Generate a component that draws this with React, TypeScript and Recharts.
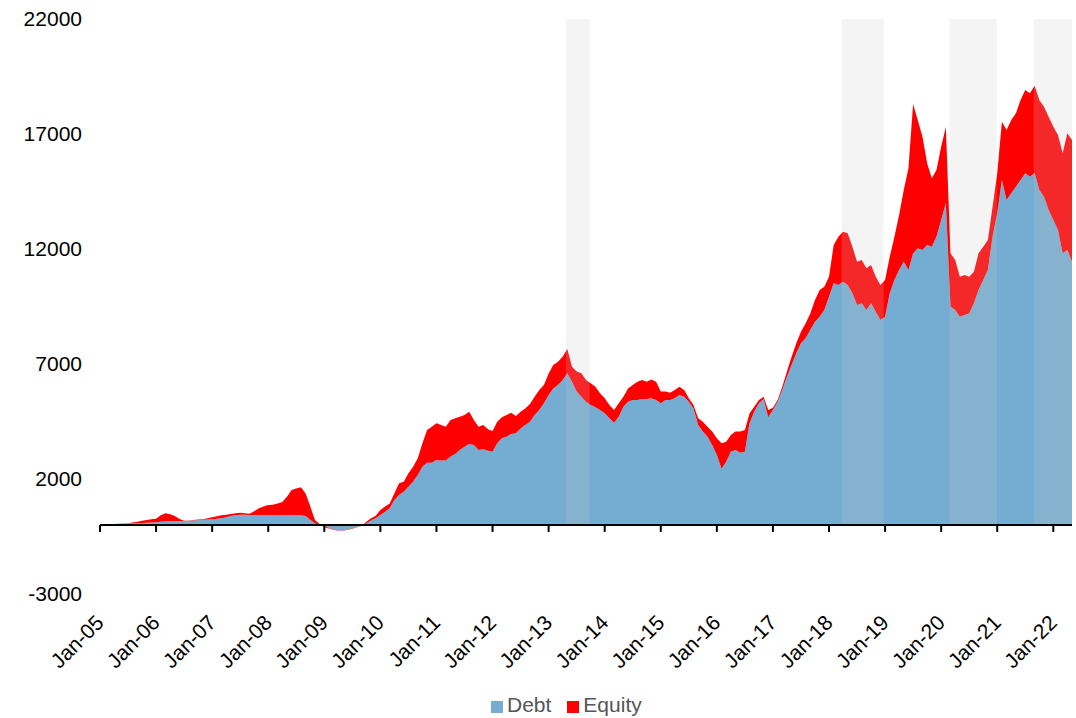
import { AreaChart, Area, XAxis, YAxis, ReferenceLine, ReferenceArea, Legend } from "recharts";

// monthly values, Jan-05 .. May-22
const debt = [
  20, 25, 30, 35, 40, 50, 60, 70, 80, 90, 100, 110,
  115, 140, 155, 165, 170, 175, 175, 185, 200, 210, 225, 240,
  250, 270, 290, 340, 390, 420, 450, 445, 435, 430, 420, 420,
  420, 420, 425, 425, 420, 420, 420, 420, 390, 220, 75, -10,
  -30, -130, -190, -235, -235, -190, -145, -85, -40, 80, 200, 290,
  435, 580, 725, 1090, 1305, 1450, 1665, 1885, 2175, 2535, 2710, 2710,
  2825, 2800, 2800, 2970, 3090, 3260, 3405, 3520, 3480, 3260, 3290, 3230,
  3190, 3550, 3770, 3840, 3955, 3990, 4200, 4350, 4490, 4780, 5000, 5290,
  5650, 5940, 6090, 6300, 6600, 6230, 5800, 5580, 5360, 5220, 5115, 5000,
  4855, 4640, 4450, 4710, 5145, 5360, 5435, 5435, 5480, 5480, 5510, 5435,
  5290, 5435, 5435, 5510, 5650, 5580, 5360, 5070, 4350, 4060, 3840, 3480,
  3040, 2450, 2750, 3190, 3260, 3145, 3190, 4420, 4925, 5290, 5480, 4680,
  5000, 5360, 5870, 6450, 6960, 7465, 7900, 8115, 8480, 8840, 9055, 9350,
  9925, 10510, 10435, 10580, 10435, 10075, 9565, 9640, 9350, 9640, 9275, 8915,
  9055, 10075, 10650, 11085, 11450, 11085, 11800, 12030, 11955, 12170, 12100, 12535,
  13260, 14000, 9500, 9350, 9055, 9130, 9200, 9640, 10220, 10650, 11085, 12535,
  13550, 15000, 14130, 14420, 14710, 15000, 15290, 15145, 15300, 14565, 14275, 13695,
  13260, 12825, 11810, 11955, 11450,
];

const equity = [
  20, 15, 15, 10, 10, 10, 20, 40, 65, 90, 120, 140,
  160, 280, 355, 305, 220, 85, 5, 15, 20, 25, 25, 50,
  85, 110, 130, 110, 90, 90, 85, 65, 55, 170, 305, 380,
  450, 460, 515, 575, 810, 1100, 1170, 1220, 985, 580, 145, 50,
  -70, -20, -20, -15, -15, -20, -15, -10, 0, 65, 90, 115,
  215, 220, 215, 290, 505, 435, 585, 650, 725, 1015, 1420, 1565,
  1595, 1550, 1475, 1595, 1550, 1450, 1375, 1405, 1085, 1015, 1060, 930,
  900, 940, 910, 940, 925, 750, 725, 720, 770, 800, 870, 800,
  940, 1020, 1010, 1020, 1050, 650, 870, 1015, 940, 940, 900, 725,
  655, 580, 550, 580, 435, 580, 655, 795, 820, 750, 820, 795,
  510, 365, 315, 360, 365, 290, 150, 150, 290, 430, 435, 580,
  730, 1100, 870, 720, 800, 915, 940, 435, 220, 145, 100, 320,
  100, 75, 145, 220, 360, 435, 505, 655, 720, 940, 1165, 1010,
  870, 1660, 2100, 2170, 2245, 2025, 1885, 1880, 1810, 1660, 1520, 1520,
  1595, 1590, 1885, 2395, 3115, 4425, 6500, 5570, 4930, 3555, 2975, 2900,
  3190, 3300, 2310, 2170, 1740, 1740, 1595, 1375, 1590, 1450, 1305, 1305,
  1740, 2535, 3045, 3190, 3190, 3480, 3620, 3625, 3800, 3915, 3915, 4055,
  4060, 4130, 4350, 5075, 5290,
];

const yearLabels = [
  "Jan-05", "Jan-06", "Jan-07", "Jan-08", "Jan-09", "Jan-10", "Jan-11", "Jan-12", "Jan-13",
  "Jan-14", "Jan-15", "Jan-16", "Jan-17", "Jan-18", "Jan-19", "Jan-20", "Jan-21", "Jan-22",
];

const yTicks = [-3000, 2000, 7000, 12000, 17000, 22000];

// shaded periods, in months since Jan-05
const shadedPeriods = [
  [99.7, 104.8],
  [158.7, 167.7],
  [181.8, 191.9],
  [199.8, 208],
];

const data = debt.map((d, i) => ({ m: i, debt: d, equity: equity[i] }));
const xTicks = yearLabels.map((_, i) => i * 12);

const FONT = "'Liberation Sans', Arial, sans-serif";

function XTick(props: any) {
  const { x, y, payload } = props;
  const label = yearLabels[Math.round(payload.value / 12)];
  const tx = x + 5;
  const ty = y + 28;
  return (
    <text
      x={tx}
      y={ty}
      transform={`rotate(-45 ${tx} ${ty})`}
      textAnchor="end"
      fontSize={21}
      fontFamily={FONT}
      fill="#000"
    >
      {label}
    </text>
  );
}

function renderLegend(props: any) {
  const items = props.payload || [];
  return (
    <div
      style={{
        display: "flex",
        alignItems: "center",
        fontFamily: FONT,
        fontSize: 21,
        lineHeight: "24px",
        color: "#555",
      }}
    >
      {items.map((item: any) => (
        <span key={item.value} style={{ display: "flex", alignItems: "center", marginRight: 16 }}>
          <span
            style={{
              display: "inline-block",
              width: 12,
              height: 12,
              background: item.color,
              marginRight: 4,
              position: "relative",
              top: 2,
            }}
          />
          {item.value}
        </span>
      ))}
    </div>
  );
}

export default function App() {
  return (
    <div style={{ position: "absolute", left: 0, top: 0, background: "#fff" }}>
      <AreaChart
        width={1076}
        height={718}
        data={data}
        margin={{ top: 19, right: 4, left: 0, bottom: 0 }}
      >
        <XAxis
          dataKey="m"
          type="number"
          domain={[0, debt.length - 1]}
          ticks={xTicks}
          axisLine={false}
          tickLine={false}
          tickSize={0}
          height={124}
          interval={0}
          tick={<XTick />}
        />
        <YAxis
          domain={[-3000, 22000]}
          ticks={yTicks}
          axisLine={false}
          tickLine={false}
          tickSize={0}
          tickMargin={18}
          width={100}
          interval={0}
          tick={{ fontSize: 21, fill: "#000", fontFamily: FONT }}
        />
        <Area
          type="linear"
          dataKey="debt"
          name="Debt"
          stackId="1"
          stroke="none"
          fill="#74add1"
          fillOpacity={1}
          isAnimationActive={false}
        />
        <Area
          type="linear"
          dataKey="equity"
          name="Equity"
          stackId="1"
          stroke="none"
          fill="#ff0000"
          fillOpacity={1}
          isAnimationActive={false}
        />
        {shadedPeriods.map(([a, b]) => (
          <ReferenceArea
            key={a}
            x1={a}
            x2={b}
            y1={0}
            y2={22000}
            fill="#c8c8c8"
            fillOpacity={0.2}
            stroke="none"
          />
        ))}
        <ReferenceLine y={0} stroke="#000" strokeWidth={2} />
        {xTicks.map((t) => (
          <ReferenceLine
            key={t}
            segment={[
              { x: t, y: 0 },
              { x: t, y: -300 },
            ]}
            stroke="#000"
            strokeWidth={2}
          />
        ))}
        <Legend
          layout="horizontal"
          verticalAlign="middle"
          align="center"
          content={renderLegend}
          wrapperStyle={{ top: 693, left: 491, width: 300, height: 24 }}
        />
      </AreaChart>
    </div>
  );
}
